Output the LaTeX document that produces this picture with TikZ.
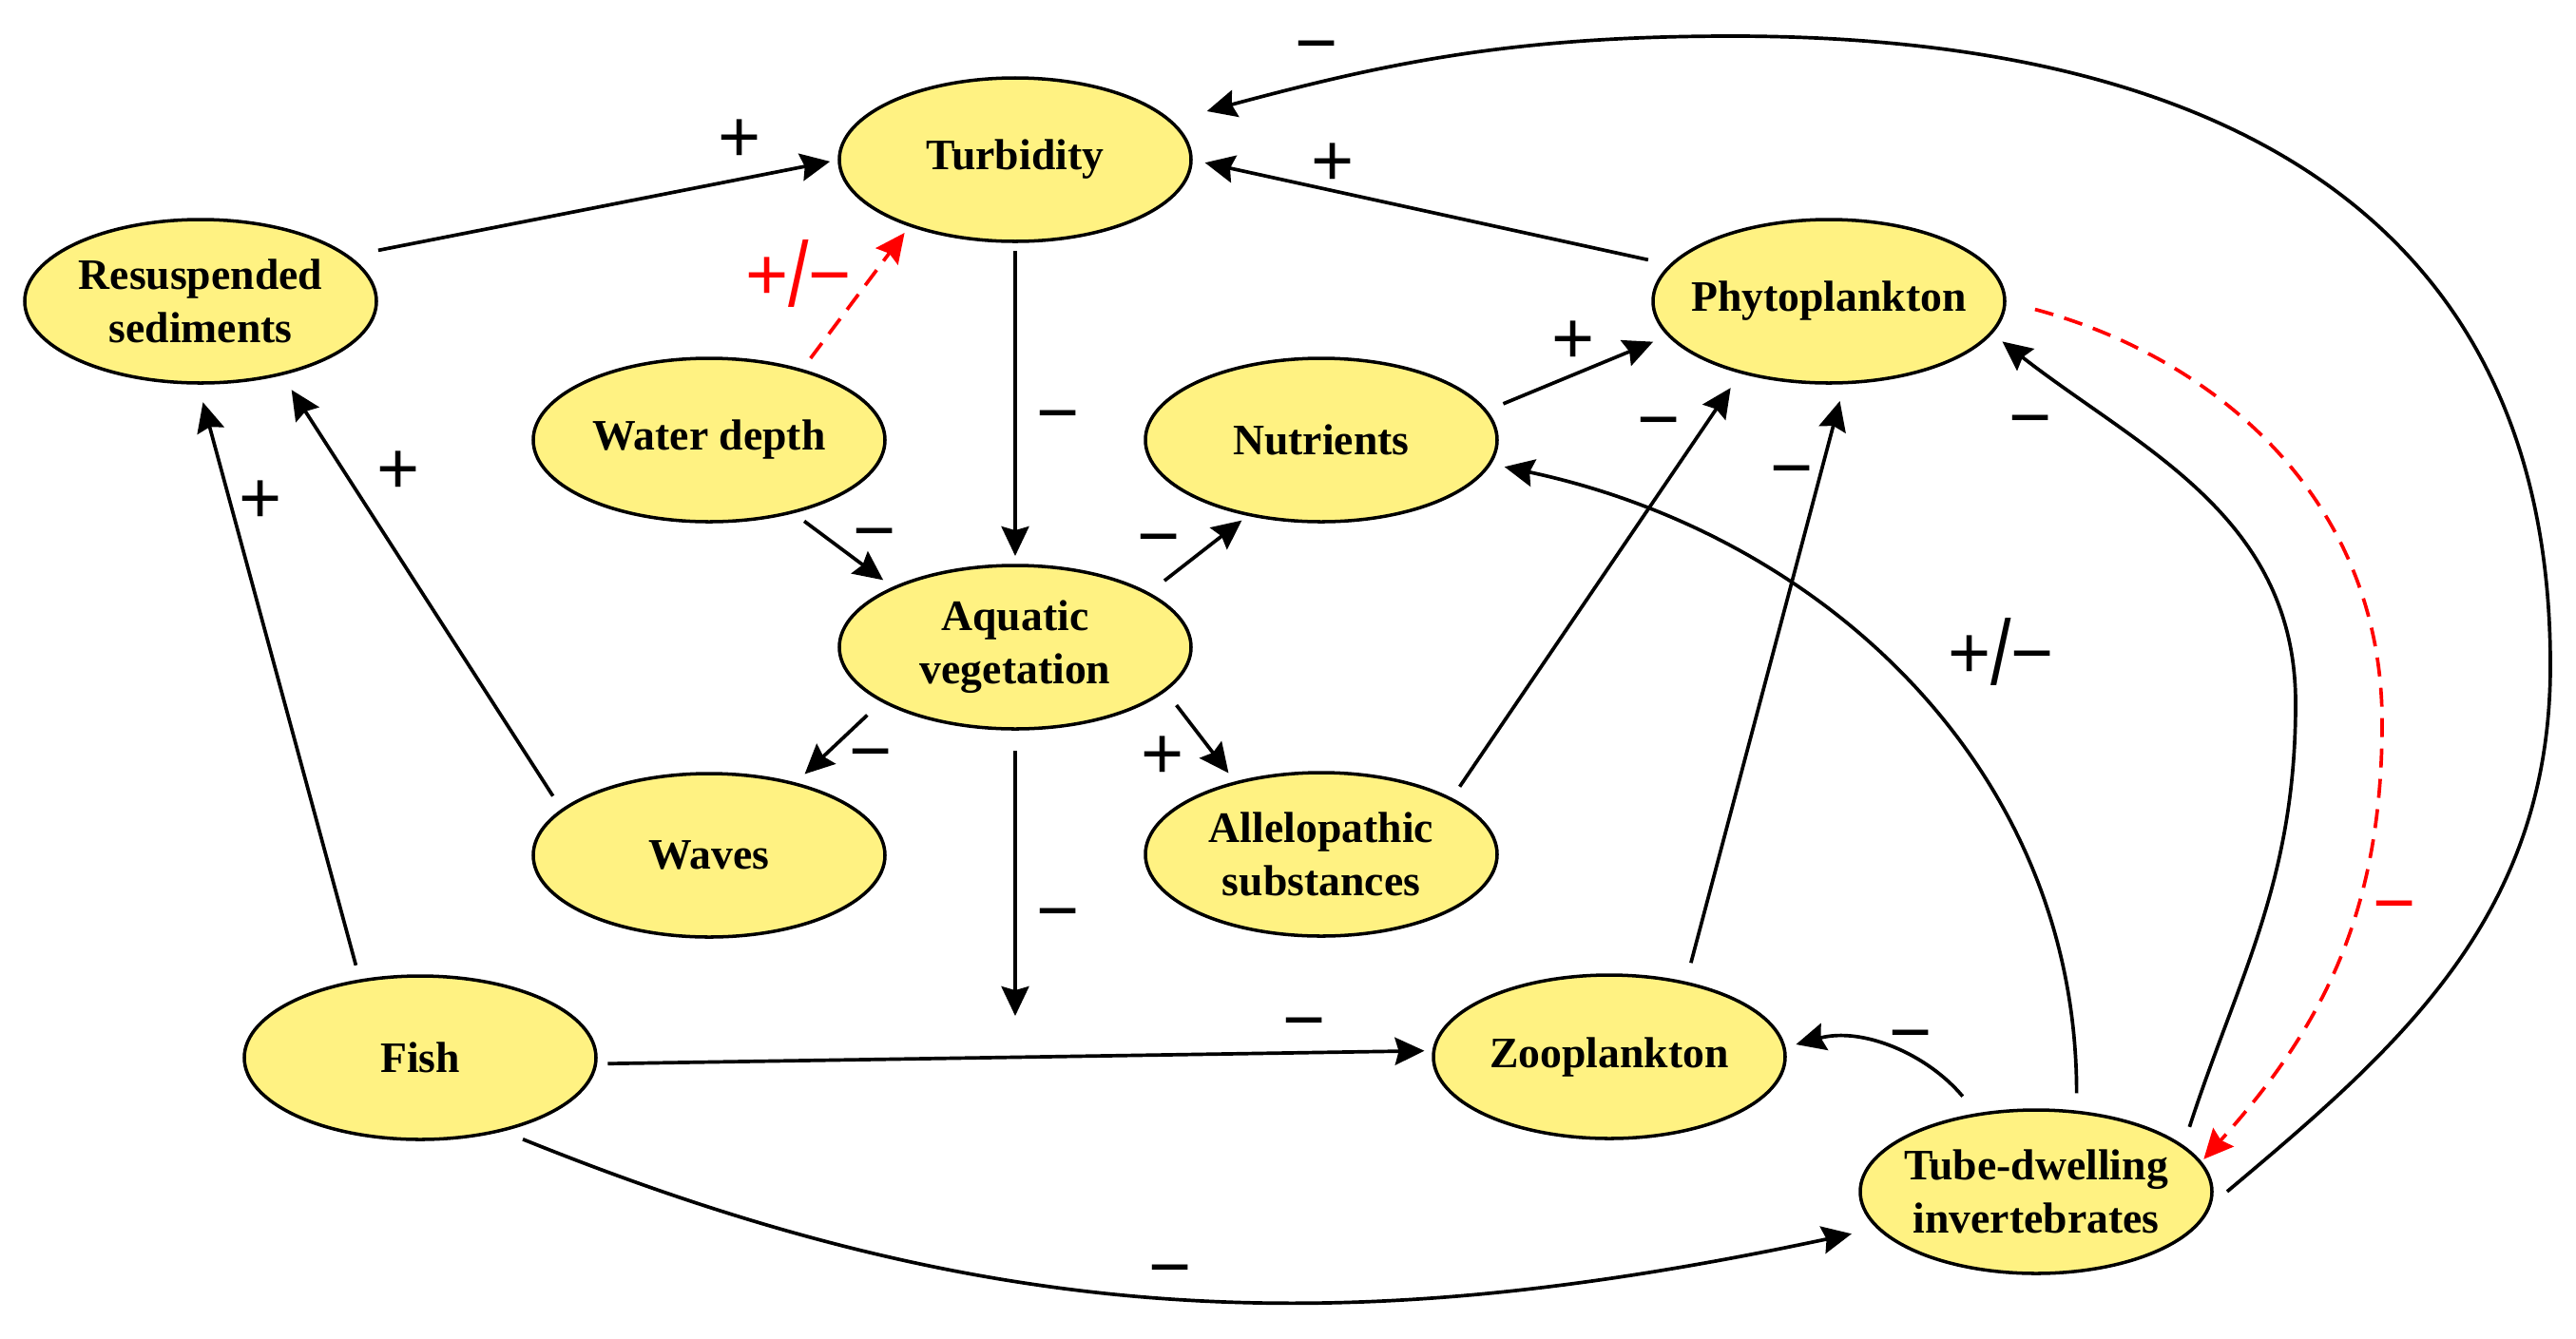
\documentclass[tikz,border=0pt]{standalone}
\usepackage{fontspec}
\setmainfont{Liberation Serif}
\newfontfamily\signfamily{Liberation Sans}
\usepackage{xcolor}
\usepackage{tikz}
\usetikzlibrary{arrows.meta,shapes.geometric}
\definecolor{nodeyellow}{HTML}{FFF282}
\definecolor{linkred}{HTML}{FF0000}
\newcommand{\nodefont}{\bfseries\fontsize{13}{16}\selectfont}
\newcommand{\signfont}{\signfamily\fontsize{22}{22}\selectfont}
\newcommand{\pmsign}{+\raisebox{-0.09em}{\scalebox{1}[1.25]{/}}−}

\begin{document}
\begin{tikzpicture}[
  n/.style={ellipse,draw,line width=1pt,fill=nodeyellow,align=center,inner xsep=-3mm,inner ysep=0pt,outer sep=0pt,minimum width=37mm,minimum height=17.2mm,font=\nodefont},
  ar/.style={-{Stealth[length=3.1mm,width=2.9mm,inset=0.4mm]},line width=1.05pt},
  rd/.style={ar,linkred,dash pattern=on 2mm off 1.2mm},
  sg/.style={font=\signfont,inner sep=0pt,text height=14.5pt,text depth=0pt}]
  \useasboundingbox (0,0) rectangle (27.1,-14.08);
  \node[n] (turb) at (10.68,-1.68)  {Turbidity};
  \node[n] (res)  at (2.11,-3.17)   {Resuspended\\sediments};
  \node[n] (wd)   at (7.46,-4.63)   {Water depth};
  \node[n] (phy)  at (19.24,-3.17)  {Phytoplankton};
  \node[n] (nut)  at (13.90,-4.63)  {Nutrients};
  \node[n] (veg)  at (10.68,-6.81)  {Aquatic\\vegetation};
  \node[n] (wav)  at (7.46,-9.00)   {Waves};
  \node[n] (alle) at (13.90,-8.99)  {Allelopathic\\substances};
  \node[n] (fish) at (4.42,-11.13)  {Fish};
  \node[n] (zoo)  at (16.93,-11.12) {Zooplankton};
  \node[n] (tube) at (21.42,-12.54) {Tube-dwelling\\invertebrates};
  \coordinate (hit)  at (10.68,-10.69);
  \coordinate (bigR) at (26.83,-7.0);
  \coordinate (bigT) at (18.22,-0.38);
  \coordinate (redR) at (25.06,-7.6);
  \coordinate (solR) at (24.15,-7.4);
  \draw[ar,shorten <=3.3mm,shorten >=1mm] (res.17) -- (turb.180);
  \draw[rd,shorten <=1.6mm,shorten >=1mm] (wd.37) -- (turb.-148);
  \draw[ar,shorten <=2.5mm,shorten >=1.5mm] (phy.167) -- (turb.0);
  \draw[ar,shorten <=2.5mm,shorten >=4mm] (tube.-5) to[out=40,in=-90] (bigR) to[out=90,in=0,looseness=1.15] (bigT) to[out=180,in=15] (turb.14);
  \draw[rd,shorten <=3.3mm,shorten >=0.5mm] (phy.0) to[out=-15,in=90] (redR) to[out=-90,in=48] (tube.10);
  \draw[ar,shorten <=2.2mm,shorten >=1.5mm] (tube.17) to[out=72,in=-90] (solR) to[out=90,in=-38] (phy.-11);
  \draw[ar,shorten <=2mm,shorten >=1.6mm] (tube.63) to[out=90,in=-12] (nut.-8);
  \draw[ar,shorten <=2.2mm,shorten >=2mm] (zoo.44) -- (phy.-79);
  \draw[ar,shorten <=1.6mm,shorten >=2mm] (alle.23) -- (phy.-141);
  \draw[ar,shorten <=2mm,shorten >=1.8mm] (nut.10) -- (phy.-168);
  \draw[ar,shorten <=1mm,shorten >=1mm] (turb.south) -- (veg.north);
  \draw[ar,shorten <=1.6mm,shorten >=1.4mm] (wd.-41) -- (veg.154);
  \draw[ar,shorten <=2.2mm,shorten >=1mm] (veg.22) -- (nut.-134);
  \draw[ar,shorten <=2.2mm,shorten >=1.5mm] (veg.-158) -- (wav.40);
  \draw[ar,shorten <=2mm,shorten >=1.3mm] (veg.-16) -- (alle.140);
  \draw[ar,shorten <=2.3mm] (veg.south) -- (hit);
  \draw[ar,shorten <=1.3mm,shorten >=1mm] (fish.-2) -- (zoo.178);
  \draw[ar,shorten <=2.5mm,shorten >=1.3mm] (tube.127) to[out=130,in=15] (zoo.3);
  \draw[ar,shorten <=2.5mm,shorten >=2.9mm] (fish.-42) to[out=-22,in=-168] (tube.-167);
  \draw[ar,shorten <=1.7mm,shorten >=2.1mm] (fish.128) -- (res.-92);
  \draw[ar,shorten <=1.8mm,shorten >=2mm] (wav.163) -- (res.-42);
  \node[sg] (s1)  at (7.78,-1.45)   {+};
  \node[sg,text=linkred] (s2) at (8.40,-2.90) {\pmsign};
  \node[sg] (s3)  at (14.02,-1.70)  {+};
  \node[sg] (s4)  at (13.85,-0.46)  {−};
  \node[sg] (s5)  at (11.13,-4.35)  {−};
  \node[sg] (s6)  at (9.20,-5.59)   {−};
  \node[sg] (s7)  at (12.19,-5.65)  {−};
  \node[sg] (s8)  at (16.55,-3.57)  {+};
  \node[sg] (s9)  at (17.45,-4.42)  {−};
  \node[sg] (s10) at (18.85,-4.93)  {−};
  \node[sg] (s11) at (21.36,-4.40)  {−};
  \node[sg] (s12) at (21.05,-6.88)  {\pmsign};
  \node[sg,text=linkred] (s13) at (25.19,-9.51) {−};
  \node[sg] (s14) at (4.19,-4.94)   {+};
  \node[sg] (s15) at (2.74,-5.25)   {+};
  \node[sg] (s16) at (9.16,-7.91)   {−};
  \node[sg] (s17) at (12.23,-7.94)  {+};
  \node[sg] (s18) at (11.13,-9.59)  {−};
  \node[sg] (s19) at (13.72,-10.74) {−};
  \node[sg] (s20) at (20.10,-10.87) {−};
  \node[sg] (s21) at (12.31,-13.34) {−};
\end{tikzpicture}
\end{document}
